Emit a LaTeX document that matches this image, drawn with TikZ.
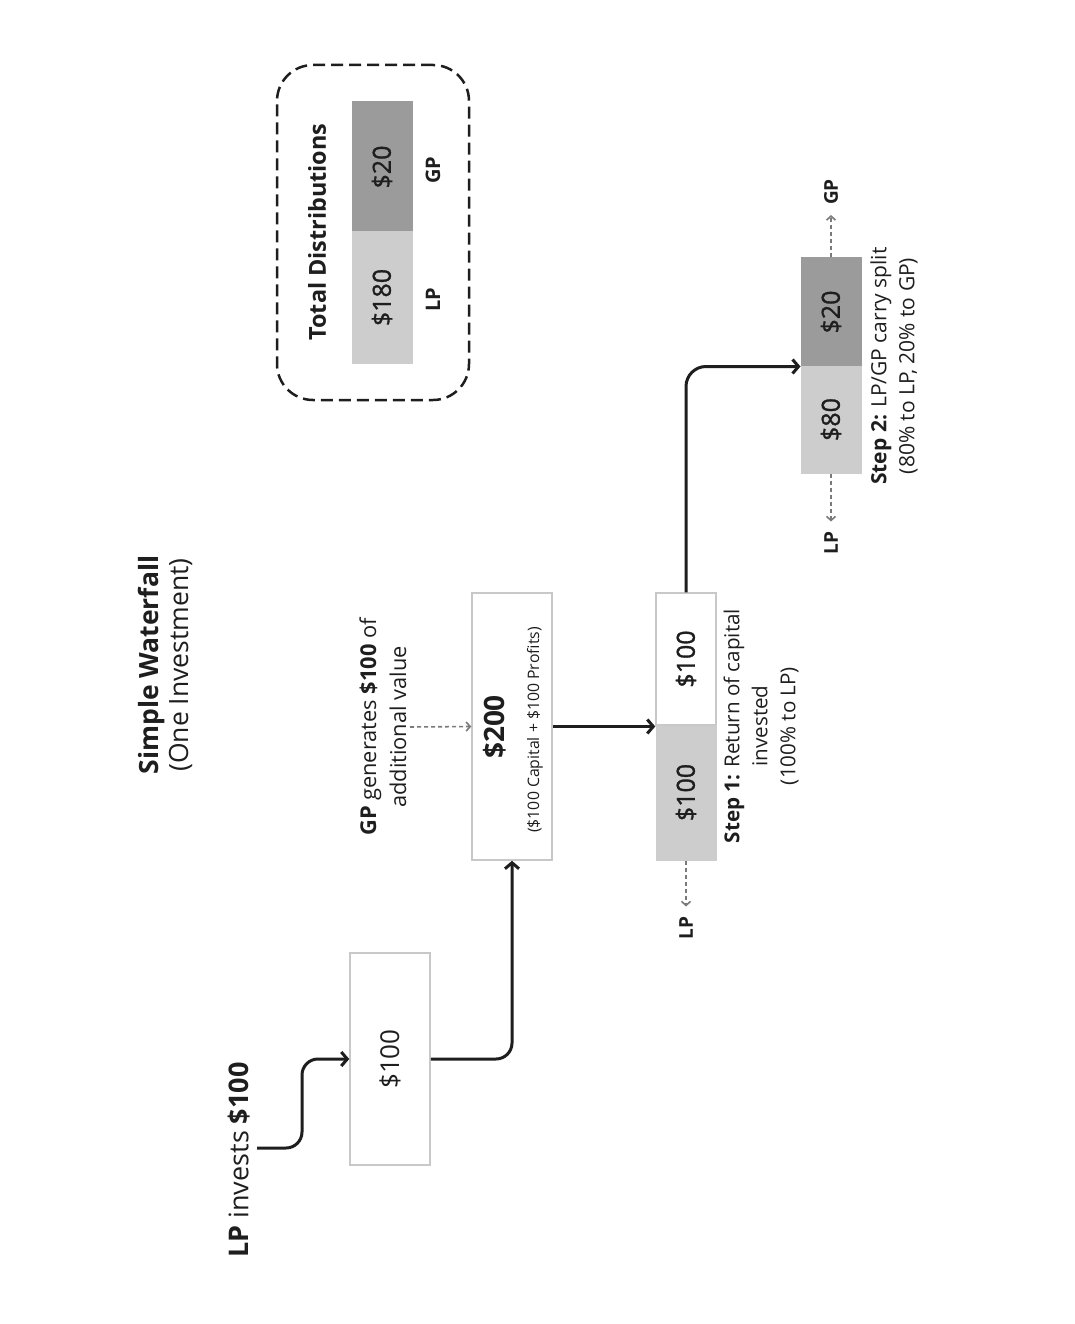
\documentclass[tikz,border=0pt]{standalone}
\usepackage{fontspec}
\setmainfont{Open Sans}
\newfontfamily\medf{Open Sans}[FakeBold=1.2]
\usetikzlibrary{arrows.meta}
\definecolor{txt}{HTML}{1E1E1E}
\definecolor{lgray}{HTML}{CDCDCD}
\definecolor{dgray}{HTML}{9B9B9B}
\definecolor{bord}{HTML}{C8C8C8}
\definecolor{dash}{HTML}{7A7A7A}
\tikzset{
  box/.style={draw=bord, line width=1.5pt, fill=white, inner sep=0pt, text=txt},
  lbox/.style={draw=lgray, line width=1pt, fill=lgray, inner sep=0pt, text=txt},
  dbox/.style={draw=dgray, line width=1pt, fill=dgray, inner sep=0pt, text=txt},
  rtext/.style={rotate=90, align=center, text=txt, inner sep=0pt},
  arr/.style={draw=txt, line width=3pt, -{Straight Barb[length=6pt,width=14pt]}},
  darr/.style={draw=dash, line width=1.6pt, dash pattern=on 4pt off 3pt, -{Straight Barb[length=4pt,width=9pt]}},
  lbl/.style={rotate=90, text=txt, font=\fontsize{19}{22}\selectfont\bfseries, inner sep=0pt}
}
\begin{document}
\begin{tikzpicture}[x=1pt,y=1pt]
\useasboundingbox (0,0) rectangle (1074,-1324);
\fill[white] (0,0) rectangle (1074,-1324);

% title
\node[rtext, font=\fontsize{26.5}{30}\selectfont] (title) at (165,-665)
  {\textbf{Simple Waterfall}\\(One Investment)};

% LP invests
\node[rtext, font=\fontsize{27}{30}\selectfont] (lpinv) at (239,-1160)
  {\textbf{LP} invests \textbf{\$100}};
\coordinate (s0) at (257,-1148);

% box 1
\node[box, minimum width=80pt, minimum height=212pt] (b1) at (390,-1059)
  {\rotatebox{90}{\fontsize{26}{30}\selectfont \$100}};

% box 2
\node[box, minimum width=80pt, minimum height=267pt] (b2) at (512,-726.5) {};
\node[rtext, font=\fontsize{28}{32}\selectfont\bfseries] (b2v) at (495,-727) {\$200};
\node[rtext, font=\fontsize{15.8}{18}\selectfont] (b2s) at (535,-730) {(\$100 Capital + \$100 Profits)};

% GP generates
\node[rtext, font=\fontsize{21.8}{30}\selectfont] (gpg) at (383,-727)
  {\textbf{GP} generates \textbf{\$100} of\\additional value};
\coordinate (g0) at (410,-727);

% box 3
\node[box, minimum width=60pt, minimum height=132pt] (b3a) at (686,-659)
  {\rotatebox{90}{\medf\fontsize{25}{28}\selectfont \$100}};
\node[lbox, minimum width=60pt, minimum height=135pt] (b3b) at (686,-792.5)
  {\rotatebox{90}{\medf\fontsize{25}{28}\selectfont \$100}};
\draw[box, fill=none] (656,-593) rectangle (716,-725);

\node[rtext, font=\fontsize{20.6}{28}\selectfont] (step1) at (761,-726)
  {\textbf{Step 1:} Return of capital\\invested\\(100\% to LP)};
\node[lbl] (lp1) at (686,-928) {LP};

% box 4
\node[dbox, minimum width=60pt, minimum height=108pt] (b4a) at (831,-312)
  {\rotatebox{90}{\medf\fontsize{25}{28}\selectfont \$20}};
\node[lbox, minimum width=60pt, minimum height=107pt] (b4b) at (831,-419.5)
  {\rotatebox{90}{\medf\fontsize{25}{28}\selectfont \$80}};
\node[rtext, font=\fontsize{21}{28}\selectfont] (step2) at (894,-366)
  {\textbf{Step 2:} LP/GP carry split\\(80\% to LP, 20\% to GP)};
\node[lbl] (lp2) at (831,-543) {LP};
\node[lbl] (gp2) at (831,-192) {GP};

% total distributions
\node[draw=txt, line width=2.5pt, dash pattern=on 12pt off 6pt, rounded corners=36pt,
  minimum width=192pt, minimum height=335pt, inner sep=0pt] (tot) at (373,-232.5) {};
\node[rtext, font=\fontsize{23.4}{26}\selectfont\bfseries] (tott) at (317,-232) {Total Distributions};
\node[dbox, minimum width=60pt, minimum height=130pt] (t1) at (382,-167)
  {\rotatebox{90}{\medf\fontsize{25}{28}\selectfont \$20}};
\node[lbox, minimum width=60pt, minimum height=131pt] (t2) at (382,-297.5)
  {\rotatebox{90}{\medf\fontsize{25}{28}\selectfont \$180}};
\node[lbl, font=\fontsize{20}{23}\selectfont\bfseries] (gp3) at (433,-170) {GP};
\node[lbl, font=\fontsize{20}{23}\selectfont\bfseries] (lp3) at (433,-300) {LP};

% connectors
\draw[arr, rounded corners=16pt] (s0) -- (302,-1148) -- (302,-1059) -- (b1.west);
\draw[arr, rounded corners=16pt] (b1.east) -| (b2.south);
\draw[darr] (g0) -- (b2.west);
\draw[arr] (b2.east) -- (b2.east -| b3a.west);
\draw[arr, rounded corners=20pt] (b3a.north) |- (b4a.south west);
\draw[darr, shorten >=10pt] (b3b.south) -- (lp1.east);
\draw[darr, shorten >=10pt] (b4b.south) -- (lp2.east);
\draw[darr, shorten >=10pt] (b4a.north) -- (gp2.west);
\end{tikzpicture}
\end{document}
